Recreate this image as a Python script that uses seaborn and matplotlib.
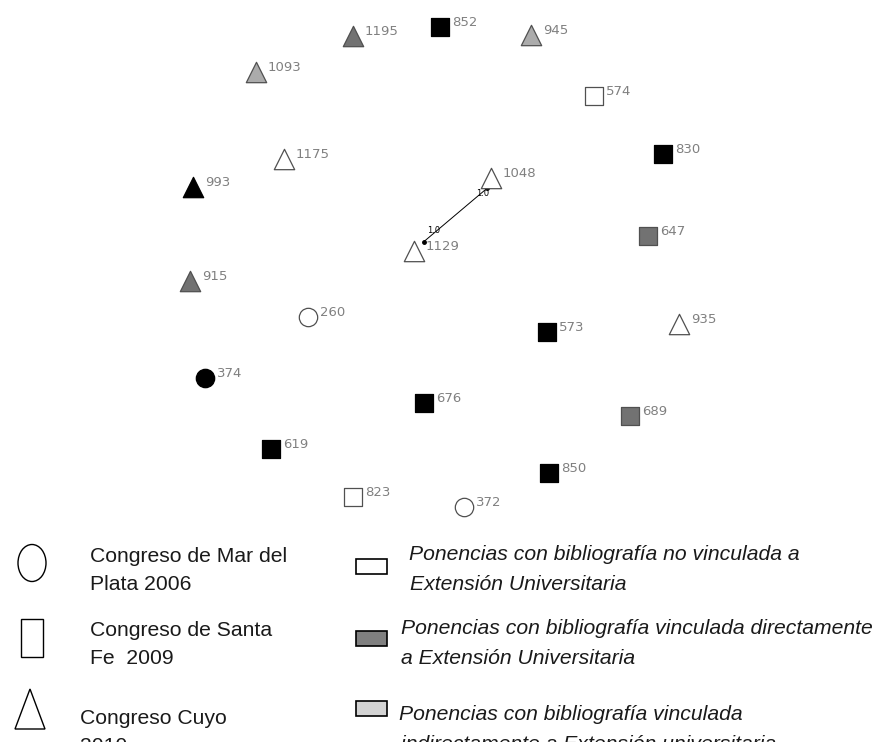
import matplotlib
matplotlib.use("Agg")
import matplotlib.pyplot as plt
import seaborn as sns
import pandas as pd
from matplotlib.patches import Ellipse, Rectangle, Polygon

# ---- data (node layout) ----
node_ids = ["1195", "852", "945", "1093", "574", "1175", "830", "993", "1048", "647",
            "1129", "915", "260", "573", "935", "374", "676", "689", "619", "850",
            "823", "372"]
node_x = [353, 440, 531, 256, 594, 284, 663, 193, 491, 648,
          414, 190, 308, 547, 679, 205, 424, 630, 271, 549,
          353, 464]
node_y = [36, 27, 35, 72, 96, 159, 154, 187, 178, 236,
          251, 281, 317, 332, 324, 378, 403, 416, 449, 473,
          497, 507]
congreso = ["Cuyo", "Santa Fe", "Cuyo", "Cuyo", "Santa Fe", "Cuyo", "Santa Fe", "Cuyo", "Cuyo", "Santa Fe",
            "Cuyo", "Cuyo", "Mar del Plata", "Santa Fe", "Cuyo", "Mar del Plata", "Santa Fe", "Santa Fe", "Santa Fe", "Santa Fe",
            "Santa Fe", "Mar del Plata"]
categoria = ["directa", "negra", "indirecta", "indirecta", "no", "no", "negra", "negra", "no", "directa",
             "no", "directa", "no", "negra", "no", "negra", "negra", "directa", "negra", "negra",
             "no", "no"]
edge_src = ["1129"]
edge_dst = ["1048"]
edge_weight = ["1.0"]

legend_shape_labels = ["Congreso de Mar del\nPlata 2006", "Congreso de Santa\nFe  2009", "Congreso Cuyo\n2010"]
legend_fill_labels = ["Ponencias con bibliografía no vinculada a\nExtensión Universitaria",
                      "Ponencias con bibliografía vinculada directamente\na Extensión Universitaria",
                      "Ponencias con bibliografía vinculada\nindirectamente a Extensión universitaria"]

df = pd.DataFrame({"id": node_ids, "x": node_x, "y": node_y,
                   "congreso": congreso, "categoria": categoria})

palette = {"no": "#ffffff", "directa": "#727272", "indirecta": "#ababab", "negra": "#000000"}
markers = {"Mar del Plata": "o", "Santa Fe": "s", "Cuyo": "^"}
sizes = {"Mar del Plata": 175, "Santa Fe": 185, "Cuyo": 215}

sns.set_style("white")
fig = plt.figure(figsize=(8.82, 7.42), dpi=100)
ax = fig.add_axes([0, 0, 1, 1])

# edge
pos = {i: (x, y) for i, x, y in zip(node_ids, node_x, node_y)}
for s_, d_, w_ in zip(edge_src, edge_dst, edge_weight):
    (x0, y0), (x1, y1) = pos[s_], pos[d_]
    fx0, fy0 = x0 + 0.13 * (x1 - x0), y0 + 0.13 * (y1 - y0)
    fx1, fy1 = x0 + 0.95 * (x1 - x0), y0 + 0.86 * (y1 - y0)
    ax.plot([fx0, fx1], [fy0, fy1], color="black", lw=0.7, zorder=1)
    ax.plot([fx0, fx1], [fy0, fy1], ls="none", marker="o", ms=2.5, color="black", zorder=1)
    ax.text(fx0 + 10, fy0 - 11, w_, fontsize=6, color="black", family="DejaVu Sans", ha="center", va="center")
    ax.text(fx1 - 4, fy1 + 5, w_, fontsize=6, color="black", family="DejaVu Sans", ha="center", va="center")

for cg, mk in markers.items():
    sub = df[df["congreso"] == cg]
    for cat in palette:
        s2 = sub[sub["categoria"] == cat]
        if s2.empty:
            continue
        ec = "#000000" if cat == "negra" else "#505050"
        sns.scatterplot(data=s2, x="x", y="y", marker=mk, color=palette[cat],
                        s=sizes[cg], edgecolor=ec, linewidth=0.9, ax=ax, legend=False, zorder=3)

for i, x, y in zip(node_ids, node_x, node_y):
    ax.annotate(i, (x, y), xytext=(8.5, 3.5), textcoords="offset points",
                fontsize=9.5, color="#808080", ha="left", va="center", family="DejaVu Sans")

# legend drawn at the bottom
FS = 15.2
shape_y = [563, 638, 710]
shape_text_x = [90, 90, 80]
shape_text_y = [557, 631, 719]
ax.add_patch(Ellipse((32, shape_y[0]), 28, 37, fill=False, ec="black", lw=1.0))
ax.add_patch(Rectangle((21, shape_y[1] - 19), 22, 38, fill=False, ec="black", lw=1.0))
ax.add_patch(Polygon([(30, shape_y[2] - 21), (15, shape_y[2] + 19), (45, shape_y[2] + 19)],
                     closed=True, fill=False, ec="black", lw=1.0))
for lab, tx, ty in zip(legend_shape_labels, shape_text_x, shape_text_y):
    l1, l2 = lab.split("\n")
    ax.text(tx, ty, l1, fontsize=FS, family="Liberation Sans", va="center", ha="left", color="#1a1a1a")
    ax.text(tx, ty + 28, l2, fontsize=FS, family="Liberation Sans", va="center", ha="left", color="#1a1a1a")

rect_y = [566, 638, 708]
rect_fill = ["#ffffff", "#808080", "#d3d3d3"]
fill_text_x = [(409, 410), (401, 401), (399, 401)]
fill_text_y = [555, 629, 715]
for ry, fc, lab, (tx1, tx2), ty in zip(rect_y, rect_fill, legend_fill_labels, fill_text_x, fill_text_y):
    ax.add_patch(Rectangle((356, ry - 7.5), 31, 15, fc=fc, ec="black", lw=1.2))
    l1, l2 = lab.split("\n")
    ax.text(tx1, ty, l1, fontsize=FS, family="Liberation Sans", style="italic", va="center", ha="left", color="#1a1a1a")
    ax.text(tx2, ty + 29, l2, fontsize=FS, family="Liberation Sans", style="italic",
            va="center", ha="left", color="#1a1a1a")

ax.set_xlim(0, 882)
ax.set_ylim(742, 0)
ax.set_axis_off()
fig.savefig("out.png", dpi=100)
